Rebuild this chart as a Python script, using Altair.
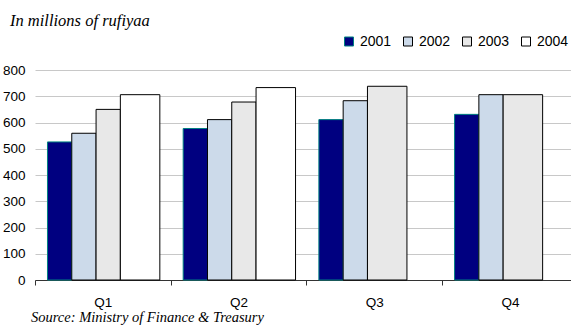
import json
import altair as alt
import pandas as pd

# Quarterly values, in millions of rufiyaa
quarters = ["Q1", "Q2", "Q3", "Q4"]
years = ["2001", "2002", "2003", "2004"]
v2001 = [526, 577, 611, 631]
v2002 = [559, 611, 683, 706]
v2003 = [650, 678, 738, 706]
v2004 = [706, 733, None, None]

subtitle = "In millions of rufiyaa"
source = "Source: Ministry of Finance & Treasury"

# Series styling
fills = ["#000080", "#CCDAEA", "#E8E8E8", "#FFFFFF"]
strokes = ["#008080", "#000000", "#000000", "#000000"]

# Bar layout inside one quarter (in quarter-width units): the last bar of
# each group is drawn wider than the others.
GROUP_PAD, NARROW, WIDE = 0.092, 0.179, 0.291

series = [v2001, v2002, v2003, v2004]
rows = []
for qi, q in enumerate(quarters):
    present = [(y, s[qi]) for y, s in zip(years, series) if s[qi] is not None]
    start = qi + GROUP_PAD
    for k, (y, v) in enumerate(present):
        w = WIDE if k == len(present) - 1 else NARROW
        rows.append({"quarter": q, "year": y, "value": v, "x0": start, "x1": start + w})
        start += w
df = pd.DataFrame(rows)

W, H = 536, 210
SANS = "Liberation Sans"
SERIF = "Liberation Serif"

legend = alt.Legend(
    title=None,
    orient="none",
    direction="horizontal",
    legendX=307,
    legendY=-35.5,
    symbolType="square",
    symbolSize=81,
    symbolStrokeWidth=1,
    labelFont=SANS,
    labelFontSize=14,
    labelColor="#000000",
    labelOffset=4,
    columnPadding=9,
    padding=0,
)

label_expr = json.dumps(quarters) + "[datum.value]"

bars = alt.Chart(df).mark_bar(strokeWidth=1).encode(
    x=alt.X(
        "x0:Q",
        scale=alt.Scale(domain=[0, 3.95], nice=False, zero=False),
        axis=alt.Axis(
            values=[0, 1, 2, 3],
            labelExpr=label_expr,
            labelOffset=67.85,
            labelFlush=False,
            labelOverlap=False,
            labelAlign="center",
            grid=False,
            domainColor="#333333",
            tickColor="#333333",
            tickSize=5,
            labelPadding=10,
            labelFont=SANS,
            labelFontSize=13.5,
            labelColor="#000000",
            title=None,
        ),
    ),
    x2="x1:Q",
    y=alt.Y(
        "value:Q",
        scale=alt.Scale(domain=[0, 800], nice=False),
        axis=alt.Axis(
            values=list(range(0, 801, 100)),
            grid=True,
            gridColor="#C8C8C8",
            domain=False,
            ticks=False,
            labelPadding=10,
            labelFont=SANS,
            labelFontSize=13.5,
            labelColor="#000000",
            title=None,
        ),
    ),
    y2=alt.datum(0),
    fill=alt.Fill("year:N", scale=alt.Scale(domain=years, range=fills), legend=legend),
    stroke=alt.Stroke("year:N", scale=alt.Scale(domain=years, range=strokes), legend=legend),
)

sub_text = alt.Chart(alt.Data(values=[{"t": subtitle}])).mark_text(
    font=SERIF, fontStyle="italic", fontSize=16.5, align="left", baseline="alphabetic", color="#000000"
).encode(text="t:N", x=alt.value(-25), y=alt.value(-44.5))

src_text = alt.Chart(alt.Data(values=[{"t": source}])).mark_text(
    font=SERIF, fontStyle="italic", fontSize=14.5, align="left", baseline="alphabetic", color="#000000"
).encode(text="t:N", x=alt.value(-4), y=alt.value(251.5))

chart = (
    alt.layer(bars, sub_text, src_text)
    .properties(
        width=W,
        height=H,
        autosize=alt.AutoSizeParams(type="none"),
        padding={"left": 35, "top": 70, "right": 0, "bottom": 49},
        background="#FFFFFF",
    )
    .configure_view(stroke=None)
)

chart.save("out.html", embed_options={"renderer": "svg", "actions": False})
